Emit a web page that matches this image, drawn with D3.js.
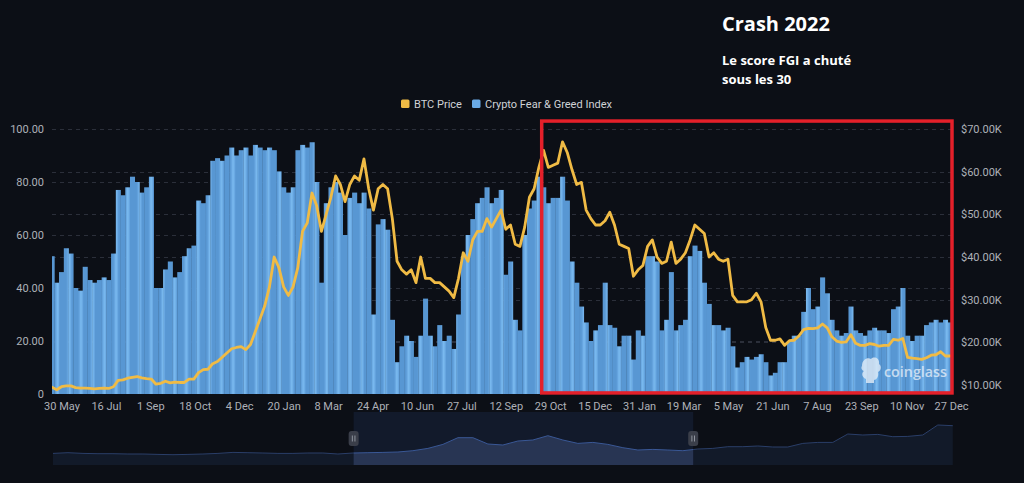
<!DOCTYPE html>
<html><head><meta charset="utf-8">
<script src="https://cdn.jsdelivr.net/npm/d3@7"></script>
<style>
html,body{margin:0;padding:0;background:#0c0f16;}
svg{display:block;}
</style></head><body>
<svg id="c" width="1024" height="483"></svg>
<script>
// ---------- DATA ----------
const startDate = "2020-05-20";   // first sample
const stepDays = 5;               // one sample every 5 days
// Crypto Fear & Greed Index (0-100)
const fgiValues = [
52,42,46,55,53,40,39,48,43,42,
43,44,43,53,77,75,78,82,80,76,
78,82,40,40,47,50,44,46,52,55,
56,73,72,75,88,89,88,90,93,90,
92,93,90,94,93,92,93,92,84,78,
76,78,92,94,93,95,80,42,72,78,
80,76,60,74,76,72,76,70,30,64,
66,62,28,12,18,22,20,14,22,36,
22,18,26,20,22,17,30,52,60,66,
72,74,78,72,74,77,45,50,28,24,
60,70,73,82,78,72,74,74,82,73,
50,42,33,27,20,24,26,42,26,25,
18,22,22,13,24,22,52,52,50,24,
28,46,24,26,28,52,56,54,42,34,
26,26,24,25,18,10,12,14,13,14,
15,12,7,8,12,12,20,22,22,31,
40,32,33,44,38,28,24,22,23,33,
24,23,22,24,25,24,24,23,32,33,
40,22,20,22,22,26,27,28,27,28,27
];
// BTC price, thousands of USD
const btcValues = [
9.5,8.9,9.6,9.8,9.8,9.4,9.3,9.3,9.2,9.1,
9.2,9.3,9.2,9.6,11.1,11.2,11.6,11.8,12.0,11.7,
11.5,11.4,10.2,10.4,10.9,10.5,10.7,10.6,10.6,11.4,
11.4,12.9,13.6,13.7,15.0,15.5,16.5,17.5,18.5,18.8,
19.0,18.3,19.5,22.5,25.5,28.5,33.0,40.0,37.5,33,
31,33,37.5,46,48,55,52,46,50,54,
59,57,53,57,59,58,63,56,51,56,
57,56,49,39,37,36,37,34,40,35,
35,34,34,33,32,30.5,35,41,39,44,
46,46,49,47,49,51,46.5,47.5,43,42.5,
47,54,56,61,65,61,61.5,62,67,64.5,
60.5,57,57.5,51,49,47.5,47.5,48.5,50.5,47.5,
43,42.5,42,35.5,37,38,42.5,44,40,38.5,
39,43.5,38.5,39.5,41,44,47.5,46.5,45.5,40,
41,39.5,39,39.5,31,29.5,29.5,29.5,30,31.5,
29.5,23.5,20.5,20.5,20.8,19.3,20.4,20.5,21.5,23.0,
23.3,23.2,23.4,24.3,23.4,21.3,20.3,20.0,20.1,21.8,
19.8,19.3,19.3,19.7,19.5,19.1,19.3,19.3,20.7,20.5,
20.9,16.5,16.3,16.2,16.0,16.4,17.0,17.1,17.8,16.8,16.8
];
const xTickDates = ["2020-05-30","2020-07-16","2020-09-01","2020-10-18","2020-12-04","2021-01-20","2021-03-08","2021-04-24","2021-06-10","2021-07-27","2021-09-12","2021-10-29","2021-12-15","2022-01-31","2022-03-19","2022-05-05","2022-06-21","2022-08-07","2022-09-23","2022-11-10","2022-12-27"];
const xTickLabels = ["30 May","16 Jul","1 Sep","18 Oct","4 Dec","20 Jan","8 Mar","24 Apr","10 Jun","27 Jul","12 Sep","29 Oct","15 Dec","31 Jan","19 Mar","5 May","21 Jun","7 Aug","23 Sep","10 Nov","27 Dec"];
const leftTicks = [0,20,40,60,80,100];
const rightTicks = [10,20,30,40,50,60,70];
const seriesNames = ["BTC Price","Crypto Fear & Greed Index"];
// Annotation box (crash 2022)
const annotStart = "2021-10-20", annotEnd = "2022-12-28", annotTop = 103;
const titleText = "Crash 2022";
const subText = ["Le score FGI a chuté","sous les 30"];
// Overview (data-zoom) shadow series, long history
const sliderStart = "2018-01-29", sliderStep = 42;
const sliderValues = [11.6,12.3,11.6,11.3,11.3,11,11,10.6,10.3,10.6,
11,11.6,12.6,12.3,12,11.6,11.6,12,12,11,
12,12.3,12.6,13,14.3,16.6,20.6,27.3,27.3,21,
20,24,25,29.3,25,21.6,22.6,20.6,17.3,15,
15.6,15,14.3,16,16.6,18.3,18.3,19,18,18,
21.6,22.6,22.6,31,30,30.6,28.3,28.6,30,40,39.3];
const windowStart = "2020-05-20", windowEnd = "2022-12-27";

// ---------- CHART ----------
const P = d3.utcParse("%Y-%m-%d");
const t0 = P(startDate);
const dates = fgiValues.map((_, i) => d3.utcDay.offset(t0, i * stepDays));
const svg = d3.select("#c");
const W = 1024, H = 483;
const L = 52, R = 952, T = 129, B = 394;
svg.append("rect").attr("width", W).attr("height", H).attr("fill", "#0c0f16");

const x = d3.scaleUtc().domain([t0, P("2022-12-28")]).range([L, R]);
const yL = d3.scaleLinear().domain([0, 100]).range([B, T]);
const yR = d3.scaleLinear().domain([7.9, 70]).range([B, T]);

const defs = svg.append("defs");
defs.append("clipPath").attr("id", "plotClip").append("rect")
  .attr("x", L).attr("y", 0).attr("width", R - L).attr("height", B);
const pat = defs.append("pattern").attr("id", "stripes").attr("patternUnits", "userSpaceOnUse")
  .attr("x", L).attr("y", 0).attr("width", 11.7).attr("height", 20);
pat.append("rect").attr("width", 11.7).attr("height", 20).attr("fill", "#5897d3");
pat.append("rect").attr("x", 3.5).attr("width", 1).attr("height", 20).attr("fill", "#68a8e3");
pat.append("rect").attr("x", 4.5).attr("width", 2.2).attr("height", 20).attr("fill", "#79b9ef");
pat.append("rect").attr("x", 6.7).attr("width", 1).attr("height", 20).attr("fill", "#68a8e3");

// grid lines
const grid = svg.append("g").attr("stroke", "#2b2f3a").attr("stroke-dasharray", "4,4").attr("stroke-width", 1);
leftTicks.filter(v => v > 0).forEach(v => grid.append("line").attr("x1", L).attr("x2", R).attr("y1", Math.round(yL(v)) + 0.5).attr("y2", Math.round(yL(v)) + 0.5));
rightTicks.filter(v => v > 10).forEach(v => grid.append("line").attr("x1", L).attr("x2", R).attr("y1", Math.round(yR(v)) + 0.5).attr("y2", Math.round(yR(v)) + 0.5));

// bars
const plot = svg.append("g").attr("clip-path", "url(#plotClip)");
plot.selectAll("rect.bar").data(fgiValues).join("rect").attr("class", "bar")
  .attr("x", (v, i) => x(d3.utcHour.offset(dates[i], -60)))
  .attr("width", (v, i) => x(d3.utcHour.offset(dates[i], 60)) - x(d3.utcHour.offset(dates[i], -60)) + 0.3)
  .attr("y", v => yL(v))
  .attr("height", v => yL(0) - yL(v))
  .attr("fill", "url(#stripes)");

// BTC line
const line = d3.line().x((v, i) => x(dates[i])).y(v => yR(v));
plot.append("path").datum(btcValues).attr("d", line)
  .attr("fill", "none").attr("stroke", "#f0bb45").attr("stroke-width", 2.8)
  .attr("stroke-linejoin", "round").attr("stroke-linecap", "round");

// axes
const font = "Roboto, 'Noto Sans', sans-serif";
function styleAxis(g) {
  g.select(".domain").remove();
  g.selectAll(".tick line").remove();
  g.selectAll("text").attr("fill", "#aeb1b8").attr("font-size", 11).attr("font-family", font);
}
svg.append("g").attr("transform", `translate(${L},0)`)
  .call(d3.axisLeft(yL).tickValues(leftTicks).tickSize(0).tickPadding(8)
    .tickFormat(d => d === 0 ? "0" : d3.format(".2f")(d))).call(styleAxis);
svg.append("g").attr("transform", `translate(${R},0)`)
  .call(d3.axisRight(yR).tickValues(rightTicks).tickSize(0).tickPadding(9)
    .tickFormat(d => "$" + d3.format(".2f")(d) + "K")).call(styleAxis);
svg.append("g").attr("transform", `translate(0,${B})`)
  .call(d3.axisBottom(x).tickValues(xTickDates.map(P)).tickSize(0).tickPadding(8)
    .tickFormat((d, i) => xTickLabels[i])).call(styleAxis);

// legend
const leg = svg.append("g").attr("font-family", font).attr("font-size", 11).attr("fill", "#d0d2d6");
leg.append("rect").attr("x", 401).attr("y", 99.5).attr("width", 8.5).attr("height", 8.5).attr("rx", 1.5).attr("fill", "#f0bb45");
leg.append("text").attr("x", 414).attr("y", 107.5).text(seriesNames[0]);
leg.append("rect").attr("x", 472).attr("y", 99.5).attr("width", 8.5).attr("height", 8.5).attr("rx", 1.5).attr("fill", "#6aaae6");
leg.append("text").attr("x", 485).attr("y", 107.5).text(seriesNames[1]);

// watermark
const wm = svg.append("g").attr("fill", "#e4eef8").attr("opacity", 0.78);
wm.append("path").attr("d", "M862,366 C862,359 868,357 871,359 C874,356 880,358 879,364 C882,366 881,371 878,372 C879,376 877,380 874,380 L874,383 L866,383 L866,379 C862,378 861,373 864,371 C861,370 861,367 862,366 Z");
wm.append("text").attr("x", 884).attr("y", 377).attr("font-family", "'Open Sans', sans-serif")
  .attr("font-weight", 600).attr("font-size", 15).attr("textLength", 63).attr("lengthAdjust", "spacingAndGlyphs").text("coinglass");

// annotation box
svg.append("rect")
  .attr("x", x(P(annotStart))).attr("y", yL(annotTop))
  .attr("width", x(P(annotEnd)) - x(P(annotStart))).attr("height", yL(0.4) - yL(annotTop))
  .attr("fill", "none").attr("stroke", "#e4202a").attr("stroke-width", 3.5);

// titles
const tt = svg.append("g").attr("font-family", "'Open Sans', sans-serif").attr("fill", "#ffffff").attr("font-weight", 700);
tt.append("text").attr("x", 722).attr("y", 31).attr("font-size", 20).text(titleText);
subText.forEach((s, i) => tt.append("text").attr("x", 722).attr("y", 64.5 + i * 19).attr("font-size", 13).text(s));

// data-zoom overview
const s0 = P(sliderStart);
const sDates = sliderValues.map((_, i) => d3.utcDay.offset(s0, i * sliderStep));
const sx = d3.scaleUtc().domain([s0, P("2025-01-01")]).range([53, 956]);
const sy = d3.scaleLinear().domain([0, 53]).range([465, 412]);
const wx0 = sx(P(windowStart)), wx1 = sx(P(windowEnd));
const area = d3.area().x((v, i) => sx(sDates[i])).y0(sy(0)).y1(v => sy(v));
const sline = d3.line().x((v, i) => sx(sDates[i])).y(v => sy(v));
svg.append("path").datum(sliderValues).attr("d", area).attr("fill", "#121a29");
svg.append("path").datum(sliderValues).attr("d", sline).attr("fill", "none").attr("stroke", "#2a3e68").attr("stroke-width", 1);
svg.append("rect").attr("x", wx0).attr("y", 412).attr("width", wx1 - wx0).attr("height", 53).attr("fill", "#121a2b");
defs.append("clipPath").attr("id", "winClip").append("rect").attr("x", wx0).attr("y", 400).attr("width", wx1 - wx0).attr("height", 70);
const win = svg.append("g").attr("clip-path", "url(#winClip)");
win.append("path").datum(sliderValues).attr("d", area).attr("fill", "#283553");
win.append("path").datum(sliderValues).attr("d", sline).attr("fill", "none").attr("stroke", "#3a5896").attr("stroke-width", 1);
[wx0, wx1].forEach(hx => {
  svg.append("rect").attr("x", hx - 5).attr("y", 431).attr("width", 10).attr("height", 15).attr("rx", 3).attr("fill", "#3a3e49");
  [-1.3, 1.3].forEach(o => svg.append("line").attr("x1", hx + o).attr("x2", hx + o).attr("y1", 435.5).attr("y2", 441.5).attr("stroke", "#a5a9b2").attr("stroke-width", 0.8));
});
</script>
</body></html>
